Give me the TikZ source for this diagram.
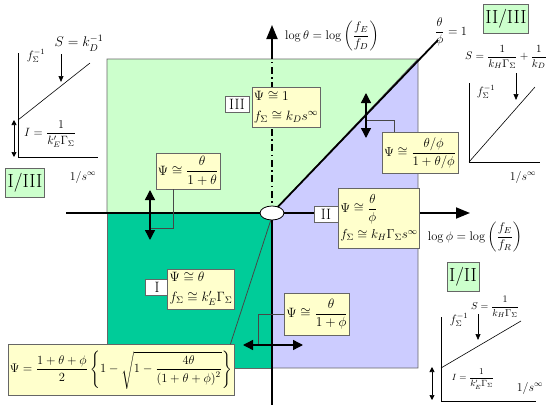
\documentclass[tikz,border=0pt]{standalone}
\usepackage{fix-cm}
\usepackage{amsmath}
\usepackage{amssymb}
\usepackage{xcolor}
\usepackage{tikz}
\usetikzlibrary{arrows.meta, positioning, shapes.geometric}

\definecolor{paleGreen}{HTML}{CCFFCC}
\definecolor{paleBlue}{HTML}{CCCCFF}
\definecolor{deepGreen}{HTML}{00CC99}
\definecolor{paleYellow}{HTML}{FFFFCC}
\definecolor{edgeGray}{HTML}{666666}

\begin{document}
\begin{tikzpicture}[
    x=1pt, y=-1pt,
    regime/.style={draw=edgeGray, line width=0.6pt},
    formula/.style={rectangle, draw=edgeGray, fill=paleYellow, line width=0.7pt, inner sep=2pt,
                    align=left, font=\fontsize{13.5}{16}\selectfont},
    roman/.style={rectangle, draw=edgeGray, fill=white, line width=0.7pt, inner sep=1pt,
                  minimum width=24pt, minimum height=16pt, font=\fontsize{15}{15}\selectfont},
    tag/.style={rectangle, draw=edgeGray, fill=paleGreen, line width=0.7pt, inner sep=2pt,
                minimum height=29pt, font=\fontsize{19}{19}\selectfont},
    axis/.style={line width=1.8pt, -{Triangle[length=14pt, width=11pt]}},
    twoway/.style={line width=1.4pt, {Triangle[length=10pt, width=10pt]}-{Triangle[length=10pt, width=10pt]}},
    lead/.style={draw=edgeGray!70!black, line width=0.8pt},
    mini/.style={line width=0.6pt},
    miniarr/.style={line width=0.7pt, -{Triangle[length=6pt, width=5pt]}},
    minitwo/.style={line width=0.7pt, {Triangle[length=5pt, width=5pt]}-{Triangle[length=5pt, width=5pt]}},
    lab/.style={inner sep=0pt, font=\fontsize{12}{14}\selectfont},
    smalllab/.style={inner sep=0pt, font=\fontsize{10}{12}\selectfont}
]
\useasboundingbox (0,0) rectangle (550,410);

% regimes
\filldraw[regime, fill=paleGreen] (107,59) -- (418,59) -- (272,213) -- (107,213) -- cycle;
\filldraw[regime, fill=paleBlue]  (272,213) -- (418,59) -- (418,368) -- (272,368) -- cycle;
\filldraw[regime, fill=deepGreen] (107,213) rectangle (272,368);

% axes
\coordinate (O) at (272,213);
\draw[line width=1.8pt] (O) -- (272,405);
\draw[line width=1.8pt, dash pattern=on 7pt off 3.5pt on 1.5pt off 3.5pt] (O) -- (272,59);
\draw[axis] (272,59) -- (272,25);
\draw[axis] (66,213) -- (470,213);
\draw[line width=1.8pt] (O) -- (438,40);
\node[ellipse, draw, fill=white, line width=0.8pt, minimum width=24pt, minimum height=14pt, inner sep=0pt] (org) at (O) {};

\node[lab, font=\fontsize{12.5}{14}\selectfont] (thetaAx) at (332,36) {$\log\theta=\log\left(\dfrac{f_E}{f_D}\right)$};
\node[lab, font=\fontsize{12.5}{14}\selectfont] (phiAx)   at (475,237) {$\log\phi=\log\left(\dfrac{f_E}{f_R}\right)$};
\node[lab, font=\fontsize{12.5}{14}\selectfont] (diag)    at (451,32) {$\dfrac{\theta}{\phi}=1$};

% regime numbers
\node[roman] (rIII) at (237,104) {III};
\node[roman] (rII)  at (326,214) {II};
\node[roman] (rI)   at (157,287) {I};

% formulas
\node[formula, minimum width=58pt, minimum height=40pt] (psiOne)   at (286,107) {$\Psi\cong 1$\\[4pt]$f_\Sigma\cong k_D s^\infty$};
\node[formula, minimum width=58pt, minimum height=36pt] (psiTheta) at (188,171) {$\Psi\cong\dfrac{\theta}{1+\theta}$};
\node[formula, minimum width=71pt, minimum height=41pt, font=\fontsize{13}{15}\selectfont] (psiRatio) at (420,153) {$\Psi\cong\dfrac{\theta/\phi}{1+\theta/\phi}$};
\node[formula, minimum width=73pt, minimum height=60pt, font=\fontsize{13}{15}\selectfont] (psiTwo)   at (379,218) {$\Psi\cong\dfrac{\theta}{\phi}$\\[5pt]$f_\Sigma\cong k_H\Gamma_\Sigma s^\infty$};
\node[formula, minimum width=57pt, minimum height=40pt] (psiLow)   at (201,289) {$\Psi\cong\theta$\\[4pt]$f_\Sigma\cong k'_E\Gamma_\Sigma$};
\node[formula, minimum width=62pt, minimum height=42pt] (psiPhi)   at (317,314) {$\Psi\cong\dfrac{\theta}{1+\phi}$};
\node[formula, minimum width=217pt, minimum height=51pt, font=\fontsize{12.5}{15}\selectfont] (psiFull) at (121,370)
    {$\Psi=\dfrac{1+\theta+\phi}{2}\left\{1-\sqrt{1-\dfrac{4\theta}{\left(1+\theta+\phi\right)^2}}\right\}$};

% crossover arrows and leaders
\coordinate (upT) at (150,190);
\coordinate (upB) at (150,240);
\coordinate (hookL) at (150,228);
\draw[lead] ([xshift=-15pt]psiTheta.south) |- (hookL);
\draw[twoway] (upT) -- (upB);

\coordinate (rtT) at (366,93);
\coordinate (rtB) at (366,138);
\coordinate (hookR) at (366,120);
\draw[lead] ([xshift=-26pt]psiRatio.north) |- (hookR);
\draw[twoway] (rtT) -- (rtB);

\coordinate (dnL) at (243,345);
\coordinate (dnR) at (303,345);
\coordinate (hookD) at (258,345);
\draw[lead] (psiPhi.west) -| (hookD);
\draw[twoway] (dnL) -- (dnR);

\draw[lead] ([xshift=-4pt]psiFull.north east) -- (org.-100);

% limiting cases
\node[tag] (tagA) at (25,183)  {I/III};
\node[tag] (tagB) at (506,19)  {II/III};
\node[tag] (tagC) at (463,277) {I/II};

% plot I/III
\draw[mini] (18,53) -- (18,157) -- (98,157);
\draw[mini] (18,120) -- (90,63);
\node[lab] (fA) at (36,56) {$f_\Sigma^{-1}$};
\node[lab, font=\fontsize{14}{16}\selectfont] (sA) at (79,43) {$S=k_D^{-1}$};
\coordinate (sAt) at (61,54);
\coordinate (sAb) at (61,82);
\draw[miniarr] (sAt) -- (sAb);
\coordinate (iAt) at (14,120);
\coordinate (iAb) at (14,157);
\draw[minitwo] (iAt) -- (iAb);
\node[lab] (iA) at (50,134) {$I=\dfrac{1}{k'_E\Gamma_\Sigma}$};
\node[lab] (xA) at (83,177) {$1/s^\infty$};

% plot II/III
\node[lab, font=\fontsize{11}{13}\selectfont] (sB) at (506,57) {$S=\dfrac{1}{k_H\Gamma_\Sigma}+\dfrac{1}{k_D}$};
\draw[mini] (469,83) -- (469,162) -- (540,162);
\draw[mini] (469,162) -- (535,87);
\node[lab] (fB) at (486,92) {$f_\Sigma^{-1}$};
\coordinate (sBt) at (516,73);
\coordinate (sBb) at (516,100);
\draw[miniarr] (sBt) -- (sBb);
\node[lab] (xB) at (523,177) {$1/s^\infty$};

% plot I/II
\node[smalllab] (sC) at (495,307) {$S=\dfrac{1}{k_H\Gamma_\Sigma}$};
\draw[mini] (441,317) -- (441,401) -- (536,401);
\draw[mini] (441,368) -- (521,321);
\node[lab] (fC) at (459,320) {$f_\Sigma^{-1}$};
\coordinate (sCt) at (478,314);
\coordinate (sCb) at (478,340);
\draw[miniarr] (sCt) -- (sCb);
\coordinate (iCt) at (432,367);
\coordinate (iCb) at (432,400);
\draw[minitwo] (iCt) -- (iCb);
\node[smalllab, font=\fontsize{9}{11}\selectfont] (iC) at (473,379) {$I=\dfrac{1}{k'_E\Gamma_\Sigma}$};
\node[lab] (xC) at (530,388) {$1/s^\infty$};
\end{tikzpicture}
\end{document}
